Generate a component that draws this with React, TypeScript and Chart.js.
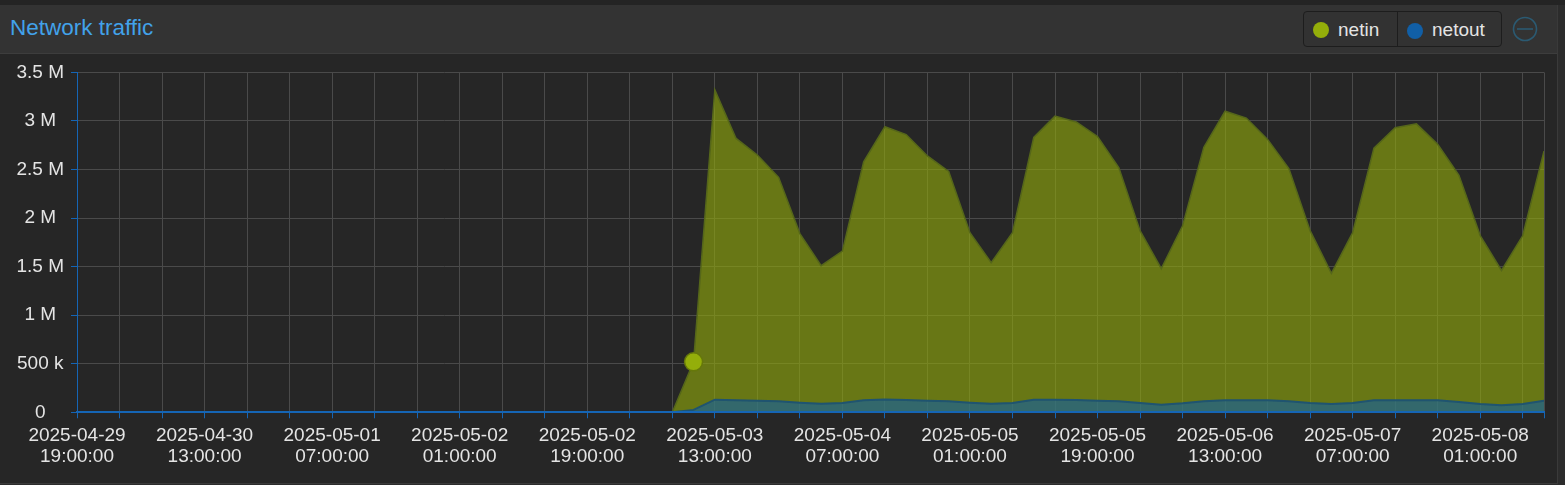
import React, { useEffect, useRef } from 'react';
import { Chart, registerables } from 'chart.js';

Chart.register(...registerables);

// ---- data ----
const START_UTC = Date.UTC(2025, 3, 29, 19, 0, 0); // first sample: 2025-04-29 19:00:00
const STEP_HOURS = 3;
const AXIS_MAX_HOURS = 207;
const TICK_HOURS = 6;
const LABEL_HOURS = 18;
const HIGHLIGHT_INDEX = 29;

const seriesNames = ['netin', 'netout'];

const netin: (number | null)[] = [
  null, null, null, null, null, null, null, null, null, null,
  null, null, null, null, null, null, null, null, null, null,
  null, null, null, null, null, null, null, null,
  0, 520000, 3320000, 2820000, 2650000, 2420000, 1840000, 1510000, 1660000, 2580000,
  2940000, 2860000, 2640000, 2480000, 1850000, 1540000, 1850000, 2830000, 3050000, 2990000,
  2840000, 2520000, 1870000, 1480000, 1920000, 2730000, 3100000, 3030000, 2810000, 2510000,
  1870000, 1430000, 1850000, 2720000, 2930000, 2970000, 2760000, 2440000, 1820000, 1460000,
  1820000, 2690000,
];

const netout: (number | null)[] = [
  null, null, null, null, null, null, null, null, null, null,
  null, null, null, null, null, null, null, null, null, null,
  null, null, null, null, null, null, null, null,
  0, 25000, 130000, 123000, 120000, 113000, 99000, 89000, 96000, 123000,
  133000, 126000, 120000, 113000, 99000, 89000, 96000, 130000, 130000, 126000,
  120000, 113000, 96000, 79000, 92000, 113000, 123000, 123000, 123000, 113000,
  96000, 85000, 96000, 123000, 123000, 123000, 123000, 106000, 85000, 72000,
  85000, 120000,
];

const Y_MAX = 3500000;
const Y_STEP = 500000;

// ---- styles ----
const FONT = '"Liberation Sans", Arial, Helvetica, sans-serif';
const NETIN_COLOR = '#94ae0a';
const NETOUT_COLOR = '#115fa6';
const AXIS_BLUE = '#1565b5';
const GRID = '#4a4a4a';
const TEXT = '#e4e4e4';

function pad(n: number) {
  return String(n).padStart(2, '0');
}
function formatTime(h: number): string[] {
  const d = new Date(START_UTC + h * 3600000);
  return [
    `${d.getUTCFullYear()}-${pad(d.getUTCMonth() + 1)}-${pad(d.getUTCDate())}`,
    `${pad(d.getUTCHours())}:${pad(d.getUTCMinutes())}:${pad(d.getUTCSeconds())}`,
  ];
}
function formatBytes(v: number): string {
  if (v === 0) return '0';
  if (v < 1000000) return `${v / 1000} k`;
  return `${v / 1000000} M`;
}

export default function App() {
  const canvasRef = useRef<HTMLCanvasElement | null>(null);

  useEffect(() => {
    document.body.style.margin = '0';
    document.body.style.background = '#2c2c2c';
    const canvas = canvasRef.current;
    if (!canvas) return;
    const hours = netin.map((_, i) => i * STEP_HOURS);
    const chart = new Chart(canvas, {
      type: 'line',
      data: {
        datasets: [
          {
            label: seriesNames[0],
            data: hours.map((h, i) => ({ x: h, y: netin[i] })) as any,
            order: 2,
            fill: 'origin',
            backgroundColor: 'rgba(148,174,10,0.6)',
            borderColor: '#55661a',
            borderWidth: 1.5,
            tension: 0,
            pointRadius: netin.map((_, i) => (i === HIGHLIGHT_INDEX ? 9 : 0)),
            pointBackgroundColor: NETIN_COLOR,
            pointBorderColor: '#66780a',
            pointBorderWidth: 1.5,
            spanGaps: false,
          },
          {
            label: seriesNames[1],
            data: hours.map((h, i) => ({ x: h, y: netout[i] })) as any,
            order: 1,
            fill: 'origin',
            backgroundColor: 'rgba(17,95,166,0.6)',
            borderColor: '#1f5470',
            borderWidth: 2,
            tension: 0,
            pointRadius: 0,
            spanGaps: false,
          },
        ],
      },
      options: {
        animation: false,
        responsive: false,
        events: [],
        layout: { padding: { left: 0, top: 16.7, right: 13, bottom: 0 } },
        plugins: {
          legend: { display: false },
          tooltip: { enabled: false },
        },
        scales: {
          x: {
            type: 'linear',
            min: 0,
            max: AXIS_MAX_HOURS,
            afterBuildTicks: (scale: any) => {
              const t: { value: number }[] = [];
              for (let h = 0; h <= AXIS_MAX_HOURS; h += TICK_HOURS) t.push({ value: h });
              t.push({ value: AXIS_MAX_HOURS });
              scale.ticks = t;
            },
            afterFit: (scale: any) => {
              scale.height = 70.7;
            },
            grid: {
              color: GRID,
              lineWidth: 1,
              tickColor: AXIS_BLUE,
              tickLength: 6,
              drawTicks: true,
            },
            border: { display: true, color: AXIS_BLUE, width: 2, z: 1 },
            ticks: {
              autoSkip: false,
              maxRotation: 0,
              minRotation: 0,
              padding: 7,
              color: TEXT,
              font: { family: FONT, size: 19, lineHeight: '21px' as any },
              callback: (v: any) => {
                const h = Number(v);
                if (h % LABEL_HOURS !== 0) return '';
                return formatTime(h);
              },
            },
          },
          y: {
            type: 'linear',
            min: 0,
            max: Y_MAX,
            afterFit: (scale: any) => {
              scale.width = 77;
            },
            grid: {
              color: GRID,
              lineWidth: 1,
              tickColor: AXIS_BLUE,
              tickLength: 6,
            },
            border: { display: true, color: AXIS_BLUE, width: 1, z: 1 },
            ticks: {
              stepSize: Y_STEP,
              crossAlign: 'center',
              padding: 7,
              color: TEXT,
              font: { family: FONT, size: 19 },
              callback: (v: any) => formatBytes(Number(v)),
            },
          },
        },
      },
    });
    return () => chart.destroy();
  }, []);

  const abs = (s: React.CSSProperties): React.CSSProperties => ({ position: 'absolute', ...s });

  return (
    <div style={abs({ left: 0, top: 0, width: 1565, height: 485, background: '#2c2c2c', overflow: 'hidden', fontFamily: FONT })}>
      <div style={abs({ left: 0, top: 0, width: 1565, height: 5, background: '#242424' })} />
      <div
        style={abs({
          left: 0,
          top: 5,
          width: 1558,
          height: 479,
          boxSizing: 'border-box',
          borderRight: '1px solid #3a3a3a',
          borderBottom: '1px solid #3a3a3a',
          background: '#262626',
        })}
      />
      {/* header */}
      <div
        style={abs({
          left: 0,
          top: 5,
          width: 1557,
          height: 49,
          boxSizing: 'border-box',
          background: '#333333',
          borderBottom: '1px solid #3d3d3d',
        })}
      />
      <div
        style={abs({
          left: 10,
          top: 17,
          fontSize: 22.5,
          lineHeight: '22.5px',
          color: '#42a2ea',
          whiteSpace: 'nowrap',
        })}
      >
        Network traffic
      </div>
      {/* legend */}
      <div
        style={abs({
          left: 1303,
          top: 11,
          width: 199,
          height: 36,
          boxSizing: 'border-box',
          border: '1px solid #1d1d1d',
          borderRadius: 4,
          background: '#323232',
        })}
      >
        <div style={abs({ left: 9, top: 10, width: 16, height: 16, borderRadius: 8, background: NETIN_COLOR })} />
        <div style={abs({ left: 34, top: 8, fontSize: 19, lineHeight: '19px', color: TEXT, whiteSpace: 'nowrap' })}>netin</div>
        <div style={abs({ left: 93, top: 0, width: 1, height: 34, background: '#1d1d1d' })} />
        <div style={abs({ left: 103, top: 11, width: 16, height: 16, borderRadius: 8, background: NETOUT_COLOR })} />
        <div style={abs({ left: 128, top: 8, fontSize: 19, lineHeight: '19px', color: TEXT, whiteSpace: 'nowrap' })}>netout</div>
      </div>
      <svg style={abs({ left: 1511, top: 15 })} width={28} height={28} viewBox="0 0 28 28">
        <circle cx={14} cy={14} r={11.5} fill="none" stroke="#2b5a72" strokeWidth={1.6} />
        <line x1={6} y1={14} x2={22} y2={14} stroke="#2b5a72" strokeWidth={1.6} />
      </svg>
      {/* chart */}
      <canvas
        ref={canvasRef}
        width={1557}
        height={429}
        style={abs({ left: 0, top: 54, width: 1557, height: 429 })}
      />
    </div>
  );
}
